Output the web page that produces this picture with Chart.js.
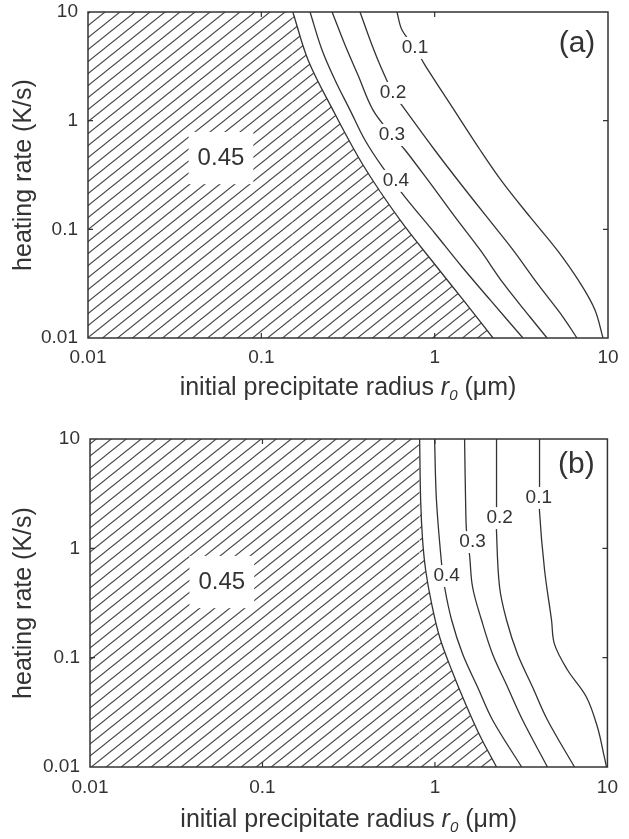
<!DOCTYPE html>
<html>
<head>
<meta charset="utf-8">
<script src="https://cdn.jsdelivr.net/npm/chart.js@4.4.0/dist/chart.umd.min.js"></script>
<style>
  body { margin: 0; background: #fff; }
  canvas { display: block; }
</style>
</head>
<body>
<canvas id="graphA" width="629" height="420"></canvas>
<canvas id="graphB" width="629" height="419"></canvas>
<script>
// axes (log)
const ticksX = [0.01, 0.1, 1, 10];
const ticksXLabels = ['0.01', '0.1', '1', '10'];
const ticksY = [0.01, 0.1, 1, 10];
const ticksYLabels = ['0.01', '0.1', '1', '10'];

// (a) contours : [rayon r0 (µm), vitesse de chauffe (K/s)]
const a045 = [[0.152, 10], [0.186, 3.62], [0.259, 1.25], [0.386, 0.391], [0.631, 0.122], [1.03, 0.045], [1.46, 0.0224], [2.17, 0.01]];
const a04 = [[0.191, 10], [0.224, 4.47], [0.266, 2.37], [0.325, 1.25], [0.396, 0.664], [0.504, 0.367], [0.675, 0.198], [1.0, 0.0925], [1.44, 0.045], [2.09, 0.0224], [3.23, 0.01]];
const a03 = [[0.256, 10], [0.304, 4.97], [0.361, 2.63], [0.441, 1.25], [0.567, 0.738], [0.675, 0.537], [0.94, 0.267], [1.31, 0.13], [1.83, 0.0646], [2.48, 0.0321], [3.55, 0.0156], [4.45, 0.01]];
const a02 = [[0.371, 10], [0.424, 5.53], [0.484, 3.25], [0.575, 1.80], [0.657, 1.34], [1.0, 0.537], [1.40, 0.267], [2.0, 0.13], [2.83, 0.0646], [3.89, 0.0321], [5.5, 0.0156], [6.62, 0.01]];
const a01 = [[0.606, 10], [0.648, 6.83], [0.77, 4.67], [0.879, 3.25], [1.26, 1.34], [1.83, 0.537], [2.48, 0.267], [3.55, 0.13], [5.08, 0.0646], [6.9, 0.0321], [8.41, 0.0181], [9.36, 0.01]];
const labelsA = ['0.1', '0.2', '0.3', '0.4', '0.45'];
const labelPosA = [[0.77, 4.67], [0.575, 1.80], [0.567, 0.738], [0.598, 0.279], [0.0585, 0.453]];

// (b) contours
const b045 = [[0.815, 10], [0.826, 2.77], [0.848, 1.19], [0.883, 0.634], [0.957, 0.31], [1.064, 0.1545], [1.249, 0.0771], [1.505, 0.0377], [1.838, 0.0188], [2.275, 0.01]];
const b04 = [[0.995, 10], [1.02, 2.77], [1.093, 0.719], [1.137, 0.443], [1.249, 0.221], [1.447, 0.108], [1.766, 0.0539], [2.157, 0.0269], [3.18, 0.01]];
const b03 = [[1.485, 10], [1.505, 2.77], [1.525, 1.41], [1.587, 0.869], [1.652, 0.443], [1.862, 0.221], [2.157, 0.108], [2.635, 0.0539], [3.22, 0.0269], [4.49, 0.01]];
const b02 = [[2.275, 10], [2.275, 2.24], [2.275, 1.41], [2.369, 0.443], [2.60, 0.221], [3.01, 0.108], [3.68, 0.0539], [4.49, 0.0269], [6.44, 0.01]];
const b01 = [[4.04, 10], [4.04, 3.64], [4.04, 2.15], [4.32, 0.634], [4.74, 0.221], [4.93, 0.133], [5.87, 0.0771], [7.55, 0.0437], [8.75, 0.0232], [9.6, 0.0123], [9.87, 0.01]];
const labelsB = ['0.1', '0.2', '0.3', '0.4', '0.45'];
const labelPosB = [[4.0, 2.89], [2.37, 1.89], [1.652, 1.14], [1.168, 0.558], [0.0581, 0.492]];

const FONT = '"Liberation Sans", Arial, sans-serif';
const INK = '#333';

function hachures() {
  const w = 15, h = 12;
  const c = document.createElement('canvas');
  c.width = w; c.height = h;
  const g = c.getContext('2d');
  g.strokeStyle = '#444';
  g.lineWidth = 1.1;
  for (const dy of [-h, 0, h]) {
    g.beginPath();
    g.moveTo(-w, 2 * h + dy);
    g.lineTo(2 * w, -h + dy);
    g.stroke();
  }
  return g.createPattern(c, 'repeat');
}

const pts = arr => arr.map(([x, y]) => ({ x, y }));

function habillage(cfg) {
  return {
    id: 'habillage',
    afterDatasetsDraw(chart) {
      const { ctx, chartArea: a, scales: { x, y } } = chart;
      ctx.save();

      // étiquettes des contours, sur fond blanc
      cfg.labels.forEach((t, i) => {
        const px = x.getPixelForValue(cfg.positions[i][0]);
        const py = y.getPixelForValue(cfg.positions[i][1]);
        const big = t === '0.45';
        const size = big ? 24 : 19;
        ctx.font = size + 'px ' + FONT;
        const w = ctx.measureText(t).width;
        const padX = big ? 9 : 2, padY = big ? 16 : 3;
        ctx.fillStyle = '#fff';
        ctx.fillRect(px - w / 2 - padX, py - size * 0.42 - padY, w + 2 * padX, size * 0.84 + 2 * padY);
        ctx.fillStyle = INK;
        ctx.textAlign = 'center';
        ctx.textBaseline = 'middle';
        ctx.fillText(t, px, py);
      });

      // cadre
      ctx.strokeStyle = INK;
      ctx.lineWidth = 1.5;
      ctx.strokeRect(a.left, a.top, a.right - a.left, a.bottom - a.top);

      // graduations vers l'intérieur
      ctx.lineWidth = 1.2;
      ctx.beginPath();
      ticksX.slice(1, -1).forEach(v => {
        const px = x.getPixelForValue(v);
        ctx.moveTo(px, a.bottom); ctx.lineTo(px, a.bottom - 5);
        ctx.moveTo(px, a.top); ctx.lineTo(px, a.top + 5);
      });
      ticksY.slice(1, -1).forEach(v => {
        const py = y.getPixelForValue(v);
        ctx.moveTo(a.left, py); ctx.lineTo(a.left + 5, py);
        ctx.moveTo(a.right, py); ctx.lineTo(a.right - 5, py);
      });
      ctx.stroke();

      // (a) / (b)
      ctx.fillStyle = INK;
      ctx.font = '30px ' + FONT;
      ctx.textAlign = 'center';
      ctx.textBaseline = 'middle';
      ctx.fillText(cfg.tag, a.right - 31, a.top + cfg.tagDy);

      // titre de l'axe x avec r0 en italique
      const parts = [
        ['initial precipitate radius ', '25px ' + FONT, 0],
        ['r', 'italic 25px ' + FONT, 0],
        ['0', 'italic 15px ' + FONT, 8],
        [' (\u03bcm)', '25px ' + FONT, 0]
      ];
      let total = 0;
      parts.forEach(p => { ctx.font = p[1]; total += ctx.measureText(p[0]).width; });
      let cx = (a.left + a.right) / 2 - total / 2;
      const ty = a.bottom + cfg.titleDy;
      ctx.textAlign = 'left';
      ctx.textBaseline = 'middle';
      parts.forEach(p => {
        ctx.font = p[1];
        ctx.fillText(p[0], cx, ty + p[2]);
        cx += ctx.measureText(p[0]).width;
      });

      ctx.restore();
    }
  };
}

function creerGraphique(id, contours, cfg) {
  const motif = hachures();
  const [c045, c04, c03, c02, c01] = contours;
  const ligne = data => ({
    data: pts(data), showLine: true, fill: false, borderColor: INK,
    borderWidth: 1.3, pointRadius: 0, tension: 0.35
  });

  return new Chart(document.getElementById(id), {
    type: 'scatter',
    data: {
      datasets: [
        {
          data: pts([[0.01, 10], [c045[0][0], 10]]),
          showLine: true, fill: 'start', backgroundColor: motif,
          borderWidth: 0, pointRadius: 0, tension: 0
        },
        Object.assign(ligne(c045), { fill: 'start', backgroundColor: motif }),
        ligne(c04),
        ligne(c03),
        ligne(c02),
        ligne(c01)
      ]
    },
    options: {
      responsive: false,
      animation: false,
      events: [],
      layout: { padding: { top: cfg.top, right: 21, left: 0, bottom: 0 } },
      plugins: { legend: { display: false }, tooltip: { enabled: false } },
      scales: {
        x: {
          type: 'logarithmic',
          min: 0.01,
          max: 10,
          grid: { display: false, drawTicks: false },
          border: { display: false },
          afterBuildTicks: s => { s.ticks = ticksX.map(v => ({ value: v })); },
          afterFit: s => { s.height = cfg.xHeight; },
          ticks: {
            autoSkip: false,
            maxRotation: 0,
            padding: cfg.xPad,
            color: INK,
            font: { family: FONT, size: 19, lineHeight: 1 },
            callback: (v, i) => ticksXLabels[i]
          }
        },
        y: {
          type: 'logarithmic',
          min: 0.01,
          max: 10,
          grid: { display: false, drawTicks: true, tickLength: 8 },
          border: { display: false },
          afterBuildTicks: s => { s.ticks = ticksY.map(v => ({ value: v })); },
          afterFit: s => { s.width = cfg.yWidth; },
          title: {
            display: true,
            text: 'heating rate (K/s)',
            color: INK,
            font: { family: FONT, size: 25 },
            padding: { top: 9, bottom: 0 }
          },
          ticks: {
            autoSkip: false,
            padding: 2,
            color: INK,
            font: { family: FONT, size: 19, lineHeight: 1 },
            callback: (v, i) => ticksYLabels[i]
          }
        }
      }
    },
    plugins: [habillage(cfg)]
  });
}

creerGraphique('graphA', [a045, a04, a03, a02, a01], {
  top: 12, xHeight: 82, yWidth: 88, xPad: 10, titleDy: 50,
  tag: '(a)', tagDy: 32, labels: labelsA, positions: labelPosA
});

creerGraphique('graphB', [b045, b04, b03, b02, b01], {
  top: 19, xHeight: 72, yWidth: 90, xPad: 11, titleDy: 53,
  tag: '(b)', tagDy: 26, labels: labelsB, positions: labelPosB
});
</script>
</body>
</html>
